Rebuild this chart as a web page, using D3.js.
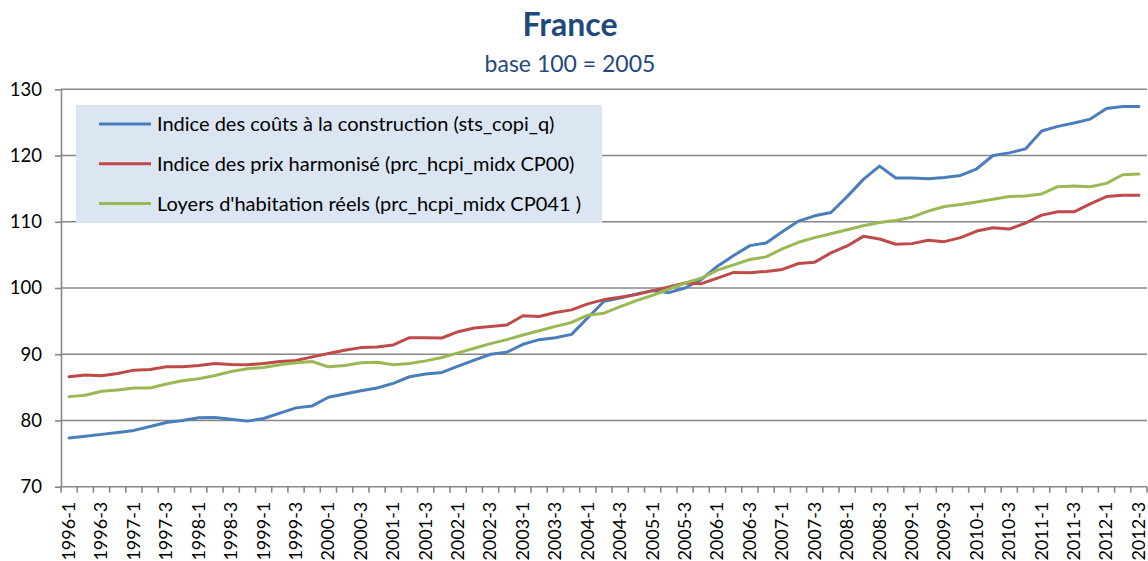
<!DOCTYPE html>
<html><head><meta charset="utf-8">
<script src="https://cdn.jsdelivr.net/npm/d3@7"></script>
<style>
html,body{margin:0;padding:0;background:#fff;}
svg{display:block;font-family:Lato,"Open Sans",sans-serif;}
</style></head>
<body><svg id="chart" width="1148" height="561"></svg>
<script>
const years = d3.range(1996, 2013);
const quarters = [1, 2, 3, 4];
const categories = [];
years.forEach(yr => quarters.forEach(q => { if (!(yr === 2012 && q === 4)) categories.push(yr + "-" + q); }));

const seriesNames = [
  "Indice des coûts à la construction (sts_copi_q)",
  "Indice des prix harmonisé (prc_hcpi_midx CP00)",
  "Loyers d'habitation réels (prc_hcpi_midx CP041 )"
];
const construction = [77.35,77.6,77.9,78.2,78.5,79.1,79.7,80.0,80.4,80.45,80.2,79.9,80.3,81.1,81.9,82.2,83.5,
  84.0,84.5,84.9,85.6,86.6,87.0,87.25,88.2,89.1,90.0,90.3,91.5,92.2,92.5,93.0,95.5,98.0,
  98.5,99.1,99.6,99.3,100.0,101.25,103.3,104.9,106.4,106.8,108.5,110.1,110.9,111.4,113.8,116.4,118.4,
  116.6,116.6,116.5,116.7,117.0,118.0,120.0,120.4,121.0,123.7,124.4,124.9,125.5,127.1,127.4,127.4];
const prixHarmonise = [86.6,86.85,86.75,87.1,87.6,87.7,88.1,88.1,88.3,88.6,88.45,88.4,88.6,88.9,89.05,89.6,90.1,
  90.6,91.0,91.1,91.4,92.5,92.5,92.45,93.4,93.95,94.2,94.4,95.8,95.7,96.3,96.7,97.6,98.25,
  98.6,99.0,99.6,100.15,100.75,100.65,101.5,102.35,102.3,102.5,102.8,103.7,103.9,105.3,106.35,107.8,107.4,
  106.6,106.7,107.2,107.0,107.6,108.6,109.1,108.9,109.8,111.0,111.5,111.5,112.7,113.8,114.0,114.0];
const loyers = [83.6,83.8,84.4,84.6,84.9,84.9,85.5,86.0,86.3,86.8,87.4,87.8,88.0,88.4,88.7,88.9,88.1,
  88.3,88.7,88.8,88.4,88.6,89.0,89.5,90.2,90.9,91.6,92.2,92.9,93.55,94.2,94.8,95.9,96.2,
  97.2,98.1,98.9,99.85,100.75,101.5,102.7,103.5,104.3,104.7,105.9,106.9,107.6,108.2,108.8,109.4,109.9,
  110.2,110.7,111.6,112.3,112.6,113.0,113.4,113.8,113.9,114.2,115.3,115.4,115.3,115.8,117.1,117.2];
const yTicks = [70, 80, 90, 100, 110, 120, 130];
const colors = ["#4A7EBB", "#BE4B48", "#98B954"];
const seriesValues = [construction, prixHarmonise, loyers];

const svg = d3.select("#chart");
const mLeft = 61, mRight = 1147, mTop = 89.3, mBottom = 486.7;
const x = d3.scaleBand().domain(categories).range([mLeft, mRight]).padding(0);
const y = d3.scaleLinear().domain([70, 130]).range([mBottom, mTop]);
const gridColor = "#878787";

// gridlines
svg.append("g").selectAll("line").data(yTicks).join("line")
  .attr("x1", mLeft).attr("x2", mRight)
  .attr("y1", d => y(d)).attr("y2", d => y(d))
  .attr("stroke", gridColor).attr("stroke-width", 1.6);

// y axis
const yAxis = d3.axisLeft(y).tickValues(yTicks).tickSize(6).tickPadding(13).tickSizeOuter(0);
const gy = svg.append("g").attr("transform", `translate(${mLeft},0)`).call(yAxis);
gy.select(".domain").attr("stroke", gridColor).attr("stroke-width", 1.6);
gy.selectAll(".tick line").attr("stroke", gridColor).attr("stroke-width", 1.6);
gy.selectAll(".tick text").attr("font-family", "Lato").attr("font-size", 18.5).attr("fill", "#000");

// x axis ticks at category boundaries
const bounds = categories.map(c => x(c)).concat([mRight]);
svg.append("g").selectAll("line").data(bounds).join("line")
  .attr("x1", d => d).attr("x2", d => d)
  .attr("y1", mBottom).attr("y2", mBottom + 6)
  .attr("stroke", gridColor).attr("stroke-width", 1.6);
svg.append("g").selectAll("text").data(categories.filter(c => /-(1|3)$/.test(c))).join("text")
  .attr("transform", d => `translate(${x(d) + x.bandwidth() / 2},${mBottom + 15}) rotate(-90)`)
  .attr("text-anchor", "end").attr("dy", "0.33em")
  .attr("font-size", 18).attr("fill", "#000").text(d => d);

// lines
const line = d3.line().x((d, i) => x(categories[i]) + x.bandwidth() / 2).y(d => y(d));
svg.append("g").selectAll("path").data(seriesValues).join("path")
  .attr("d", d => line(d)).attr("fill", "none")
  .attr("stroke", (d, i) => colors[i]).attr("stroke-width", 3)
  .attr("stroke-linejoin", "round").attr("stroke-linecap", "round");

// legend
const lg = svg.append("g");
lg.append("rect").attr("x", 76).attr("y", 105).attr("width", 526).attr("height", 118).attr("fill", "#DCE6F2");
const rows = lg.selectAll("g").data(seriesNames).join("g")
  .attr("transform", (d, i) => `translate(0,${124 + i * 39.7})`);
rows.append("line").attr("x1", 99).attr("x2", 151).attr("y1", 0).attr("y2", 0)
  .attr("stroke", (d, i) => colors[i]).attr("stroke-width", 3);
rows.append("text").attr("x", 157).attr("dy", "0.36em").attr("font-size", 20).attr("fill", "#000").text(d => d);

// title
svg.append("text").attr("x", 570).attr("y", 36).attr("text-anchor", "middle")
  .attr("font-size", 32).attr("font-weight", "bold").attr("fill", "#1F497D").text("France");
svg.append("text").attr("x", 570).attr("y", 72).attr("text-anchor", "middle")
  .attr("font-size", 23).attr("fill", "#1F497D").text("base 100 = 2005");
</script></body></html>
